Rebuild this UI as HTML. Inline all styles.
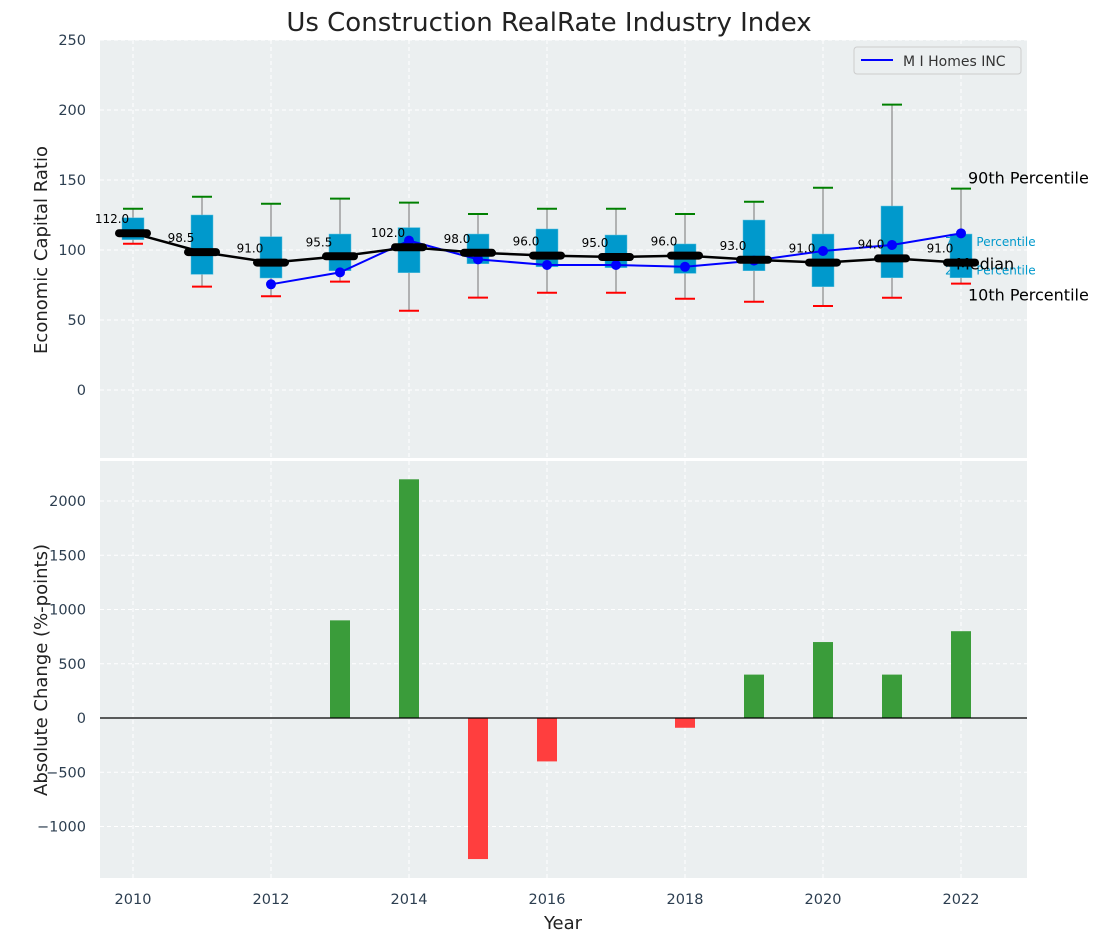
<!DOCTYPE html>
<html><head><meta charset="utf-8"><style>
body{margin:0;background:#fff;font-family:"Liberation Sans","DejaVu Sans",sans-serif}
svg text{font-family:"DejaVu Sans","Liberation Sans",sans-serif}
</style></head><body>
<svg id="c" width="1103" height="942" xmlns="http://www.w3.org/2000/svg">
<rect width="1103" height="942" fill="#fff"/>
<text x="549" y="31" font-size="26" text-anchor="middle" fill="#222">Us Construction RealRate Industry Index</text>
<rect x="100" y="40" width="927" height="418" fill="#ebeff0"/>
<rect x="100" y="461" width="927" height="417" fill="#ebeff0"/>
<g id="gtop"></g><g id="gbot"></g>
<text x="47" y="250" font-size="18" text-anchor="middle" fill="#222" transform="rotate(-90 47 250)">Economic Capital Ratio</text>
<text x="47" y="670" font-size="18" text-anchor="middle" fill="#222" transform="rotate(-90 47 670)">Absolute Change (%-points)</text>
<text x="563" y="929" font-size="18" text-anchor="middle" fill="#222">Year</text>
<g>
<rect x="854" y="47" width="167" height="27" rx="3" fill="#ebeff0" stroke="#ccc"/>
<line x1="861" y1="60" x2="893" y2="60" stroke="blue" stroke-width="2"/>
<text x="903" y="66" font-size="14" fill="#333">M I Homes INC</text>
</g>
</svg>
<script>
const years=[2010,2011,2012,2013,2014,2015,2016,2017,2018,2019,2020,2021,2022];
const p90=[129.5,138,133,136.7,133.8,125.7,129.5,129.5,125.7,134.5,144.5,203.8,143.8];
const p75=[123,125,109.5,111.4,116,111.4,115,110.7,104.3,121.4,111.4,131.4,111.4];
const medians=[112,98.5,91,95.5,102,98,96,95,96,93,91,94,91];
const p25=[107.4,82.6,80,85.2,83.8,90.2,88,87.4,83.3,85.2,73.8,80.2,80.2];
const p10=[104.5,73.8,67,77.4,56.6,66,69.5,69.5,65.2,63,60,65.9,76];
const company=[null,null,75.5,84,106.7,93.3,89.3,89.3,88,92.4,99.3,103.6,111.9];
const changes=[0,0,0,900,2200,-1300,-400,0,-90,400,700,400,800];
const topTicks=[0,50,100,150,200,250];
const botTicks=[-1000,-500,0,500,1000,1500,2000];
const xTicks=[2010,2012,2014,2016,2018,2020,2022];
const NS='http://www.w3.org/2000/svg';
const X=y=>133+(y-2010)*69;
const YT=v=>390-v*1.4;
const YB=v=>718-v*0.1085;
function el(p,t,a){const e=document.createElementNS(NS,t);for(const k in a)e.setAttribute(k,a[k]);p.appendChild(e);return e;}
const gTop=document.getElementById('gtop'),gBot=document.getElementById('gbot');
xTicks.forEach(t=>{
 let g=el(gTop,'line',{x1:X(t),x2:X(t),y1:40,y2:458,stroke:'#fff','stroke-dasharray':'4,3'});
 
 g=el(gBot,'line',{x1:X(t),x2:X(t),y1:461,y2:878,stroke:'#fff','stroke-dasharray':'4,3'});
 
 const tx=el(gBot,'text',{x:X(t),y:904,'font-size':14.5,'text-anchor':'middle',fill:'#2c3e50'});tx.textContent=t;
 
});
topTicks.forEach(t=>{
 const g=el(gTop,'line',{x1:100,x2:1027,y1:YT(t),y2:YT(t),stroke:'#fff','stroke-dasharray':'4,3'});
 
 const tx=el(gTop,'text',{x:86,y:YT(t)+5,'font-size':14.5,'text-anchor':'end',fill:'#2c3e50'});tx.textContent=t;
 
});
botTicks.forEach(t=>{
 const g=el(gBot,'line',{x1:100,x2:1027,y1:YB(t),y2:YB(t),stroke:'#fff','stroke-dasharray':'4,3'});
 
 const tx=el(gBot,'text',{x:86,y:YB(t)+5,'font-size':14.5,'text-anchor':'end',fill:'#2c3e50'});tx.textContent=(t<0?'\u2212'+(-t):t);
 
});
const last=years.length-1,lx=X(years[last]);
[['90th Percentile',YT(p90[last])-5,lx+7,16,'#000'],['10th Percentile',YT(p10[last])+17,lx+7,16,'#000'],['75th Percentile',YT(p75[last])+12,lx-16,12,'#0099cc'],['25th Percentile',YT(p25[last])-3,lx-16,12,'#0099cc']].forEach(a=>{
 const tx=el(gTop,'text',{x:a[2],y:a[1],'font-size':a[3],fill:a[4]});tx.textContent=a[0];
 
});
years.forEach((y,i)=>{
 const x=X(y);
 let e=el(gTop,'line',{x1:x,x2:x,y1:YT(p90[i]),y2:YT(p10[i]),stroke:'#888','stroke-width':1.2});
 
 e=el(gTop,'line',{x1:x-10,x2:x+10,y1:YT(p90[i]),y2:YT(p90[i]),stroke:'green','stroke-width':2});
 
 e=el(gTop,'line',{x1:x-10,x2:x+10,y1:YT(p10[i]),y2:YT(p10[i]),stroke:'red','stroke-width':2});
 
 e=el(gTop,'rect',{x:x-11,y:YT(p75[i]),width:22,height:YT(p25[i])-YT(p75[i]),fill:'#0099cc',stroke:'#5bc0de','stroke-width':0.5});
 
});
let t=el(gTop,'text',{x:lx-5,y:YT(medians[last])+7,'font-size':16,fill:'#000'});t.textContent='Median';

let pts=[];years.forEach((y,i)=>{if(company[i]!=null)pts.push(X(y)+','+YT(company[i]));});
let pl=el(gTop,'polyline',{points:pts.join(' '),fill:'none',stroke:'blue','stroke-width':2});

years.forEach((y,i)=>{if(company[i]==null)return;
 const c=el(gTop,'circle',{cx:X(y),cy:YT(company[i]),r:5,fill:'blue'});
 });
pl=el(gTop,'polyline',{points:years.map((y,i)=>X(y)+','+YT(medians[i])).join(' '),fill:'none',stroke:'#000','stroke-width':2.5});

years.forEach((y,i)=>{const x=X(y),yy=YT(medians[i]);
 const m=el(gTop,'line',{x1:x-14,x2:x+14,y1:yy,y2:yy,stroke:'#000','stroke-width':8,'stroke-linecap':'round'});
 
 const tx=el(gTop,'text',{x:x-21,y:yy-10,'font-size':12,'text-anchor':'middle',fill:'#000'});tx.textContent=medians[i].toFixed(1);
 
});
years.forEach((y,i)=>{if(!changes[i])return;const v=changes[i];
 const b=el(gBot,'rect',{x:X(y)-10,y:Math.min(YB(v),YB(0)),width:20,height:Math.abs(YB(v)-YB(0)),fill:v>0?'#3a9c3a':'#ff3e3e'});
 });
const z=el(gBot,'line',{x1:100,x2:1027,y1:YB(0),y2:YB(0),stroke:'#000','stroke-width':1.2});

</script>
</body></html>
